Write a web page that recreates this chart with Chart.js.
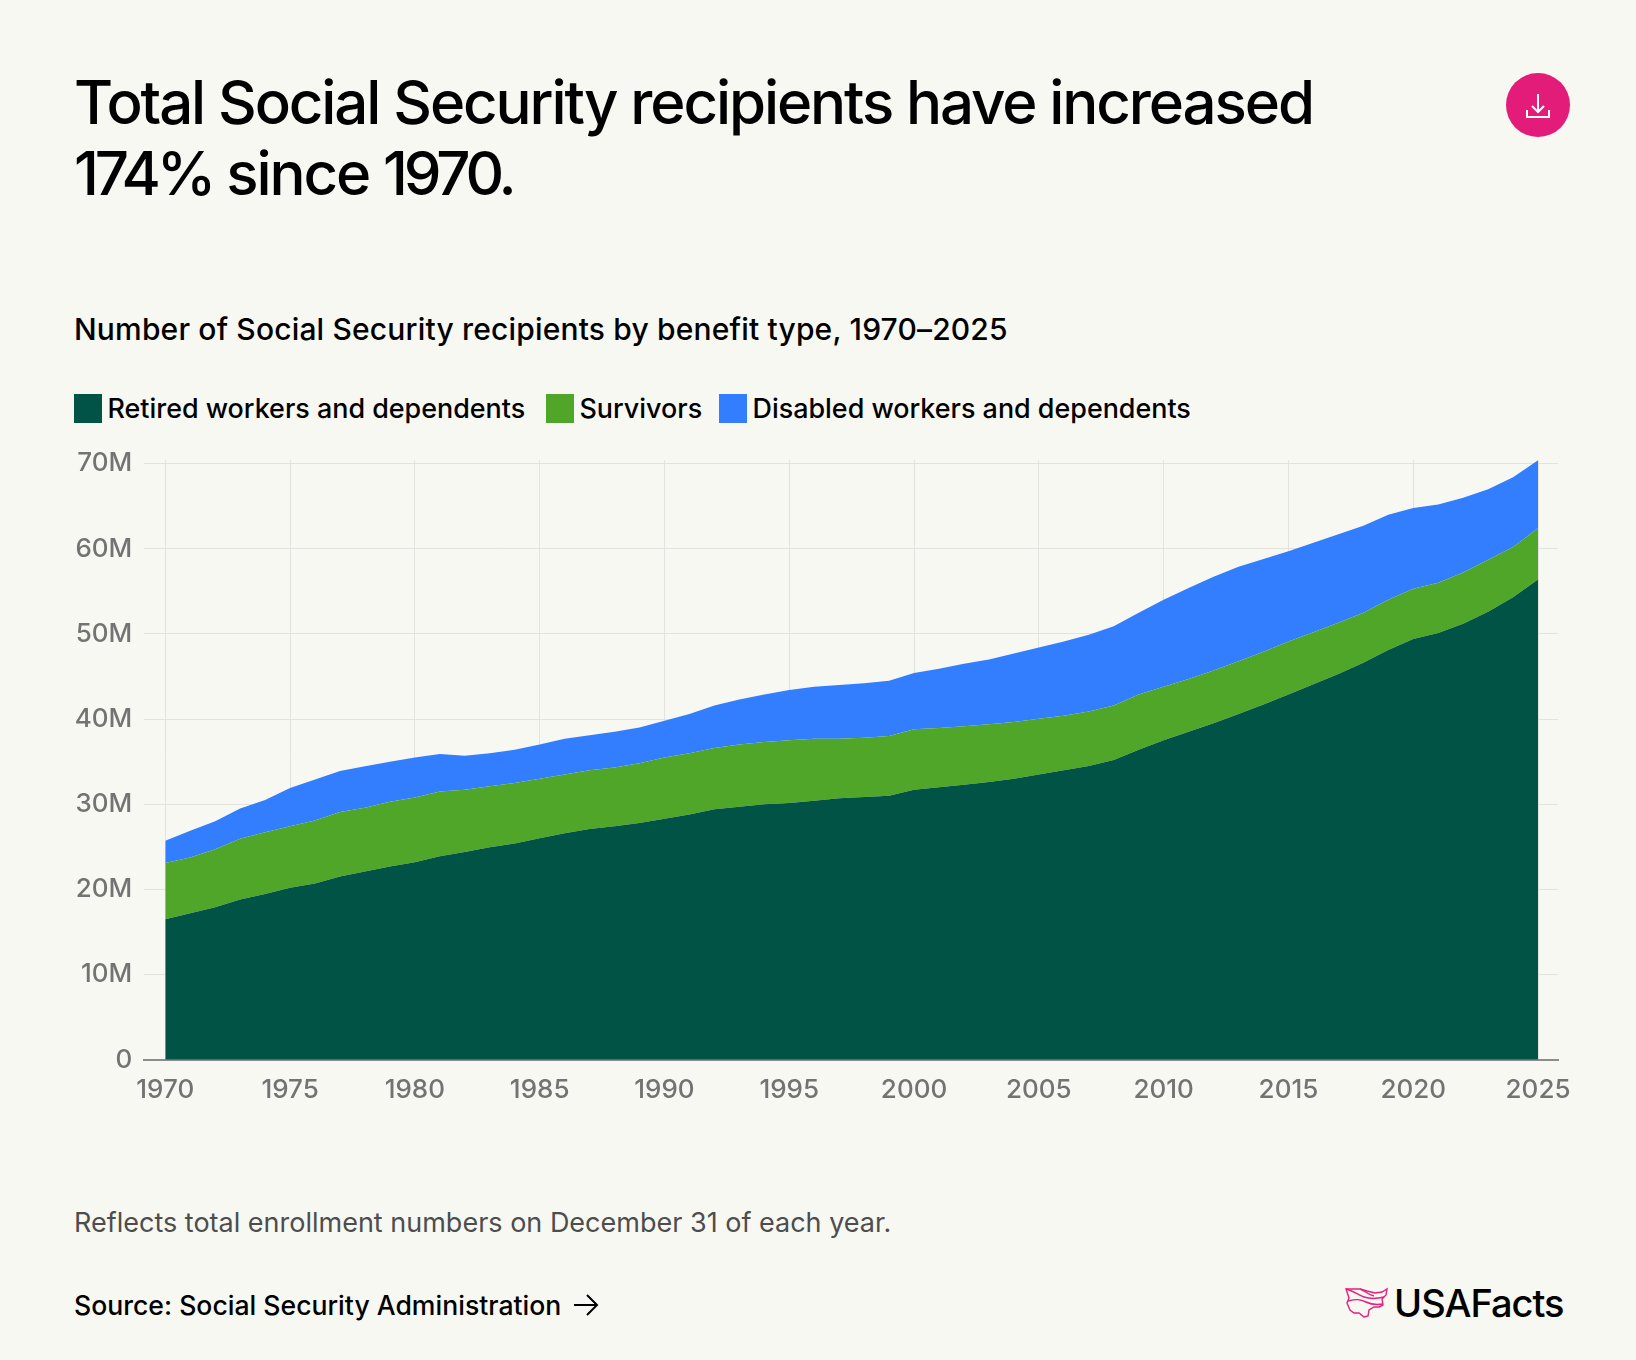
<!DOCTYPE html>
<html>
<head>
<meta charset="utf-8">
<script src="https://cdn.jsdelivr.net/npm/chart.js@4"></script>
<style>
  html, body { margin: 0; padding: 0; background: #f8f8f3; }
  body { position: relative; width: 1636px; height: 1360px; overflow: hidden; font-family: Inter, sans-serif; color: #000; }
  .abs { position: absolute; white-space: nowrap; }
  #title { left: 74px; top: 67px; font-size: 60px; line-height: 71px; font-weight: 500; letter-spacing: -2.1px; }
  #title span { letter-spacing: -4.1px; }
  #subtitle { left: 74px; top: 311px; font-size: 30px; line-height: 36px; font-weight: 500; letter-spacing: 0.17px; }
  #legend { left: 74px; top: 394px; height: 29px; }
  .swatch { position: absolute; top: 0; width: 28px; height: 29px; }
  .leglabel { position: absolute; top: 0; line-height: 29px; font-size: 26.9px; font-weight: 500; white-space: nowrap; }
  #note { left: 74px; top: 1206px; font-size: 27px; line-height: 34px; color: #4d4d4d; }
  #source { left: 74px; top: 1288px; font-size: 26.6px; line-height: 34px; font-weight: 500; }
  #brand { left: 1394px; top: 1280px; font-size: 38px; line-height: 46px; font-weight: 500; letter-spacing: -1px; }
  canvas { position: absolute; left: 0; top: 440px; }
  svg { position: absolute; }
</style>
</head>
<body>
<div class="abs" id="title">Total Social Security recipients have increased<br><span>174%</span> since <span>1970.</span></div>
<div class="abs" id="subtitle">Number of Social Security recipients by benefit type, 1970–2025</div>
<div class="abs" id="legend"></div>
<canvas id="myChart" width="1636" height="690"></canvas>
<div class="abs" id="note">Reflects total enrollment numbers on December 31 of each year.</div>
<div class="abs" id="source">Source: Social Security Administration</div>
<svg style="left:572px;top:1293px" width="28" height="24" viewBox="0 0 28 24" fill="none" stroke="#000" stroke-width="2">
  <path d="M2 12H25M15 2L25 12L15 22"/>
</svg>
<div class="abs" id="brand">USAFacts</div>
<svg style="left:1344px;top:1286px" width="46" height="34" viewBox="0 0 46 34" fill="none" stroke="#e61f7b" stroke-width="1.4">
  <path d="M2 3H16L23 5L31 7L38 6L43 3L42 9L38 13L39 19L35 21L30 21L25 24L24 30L20 31L15 27L10 27L6 24L3 17L5 12Z"/>
  <path d="M2 3C10 5 14 9 20 11S32 13 40 11"/>
  <path d="M16 3C22 5 24 9 30 10"/>
  <path d="M4 15C12 13 16 13 22 16S32 19 39 18"/>
</svg>
<svg style="left:1506px;top:73px" width="64" height="64" viewBox="0 0 64 64">
  <circle cx="32" cy="32" r="32" fill="#e31c79"/>
  <path d="M32 21V38M26 33L32 39L38 33M21 37V44H43V37" fill="none" stroke="#fff" stroke-width="2"/>
</svg>
<script>
const ctx = document.getElementById("myChart").getContext("2d");

const years = [1970,1971,1972,1973,1974,1975,1976,1977,1978,1979,1980,1981,1982,1983,1984,1985,1986,1987,1988,1989,1990,1991,1992,1993,1994,1995,1996,1997,1998,1999,2000,2001,2002,2003,2004,2005,2006,2007,2008,2009,2010,2011,2012,2013,2014,2015,2016,2017,2018,2019,2020,2021,2022,2023,2024,2025];
// millions of recipients
const retired = [16.5,17.2,17.9,18.8,19.45,20.2,20.7,21.5,22.1,22.7,23.2,23.9,24.4,24.95,25.4,26.0,26.6,27.1,27.4,27.8,28.3,28.8,29.4,29.7,30.0,30.15,30.4,30.7,30.85,31.0,31.7,32.0,32.3,32.6,33.0,33.5,34.0,34.5,35.2,36.4,37.5,38.5,39.5,40.6,41.7,42.9,44.1,45.3,46.6,48.1,49.4,50.1,51.2,52.6,54.3,56.4];
const survivors = [6.6,6.55,6.8,7.16,7.25,7.2,7.4,7.6,7.5,7.6,7.6,7.6,7.3,7.15,7.1,7.0,6.9,6.9,6.9,7.0,7.2,7.2,7.2,7.3,7.3,7.35,7.3,7.0,6.95,7.0,7.1,6.95,6.85,6.8,6.65,6.55,6.4,6.4,6.4,6.5,6.3,6.2,6.2,6.2,6.2,6.2,6.1,6.0,5.9,5.9,5.9,5.9,6.0,6.1,5.9,6.0];
const disabled = [2.6,3.15,3.3,3.55,3.8,4.5,4.8,4.8,4.85,4.7,4.7,4.4,4.0,3.9,3.9,4.0,4.2,4.1,4.2,4.2,4.3,4.6,5.0,5.3,5.6,5.9,6.1,6.3,6.4,6.5,6.6,6.95,7.35,7.6,8.05,8.35,8.7,9.0,9.3,9.6,10.2,10.7,11.0,11.1,10.9,10.6,10.5,10.4,10.2,10.0,9.5,9.2,8.8,8.3,8.2,8.0];

const seriesNames = ["Retired workers and dependents","Survivors","Disabled workers and dependents"];
const seriesColors = ["#005345","#4fa628","#327eff"];
const yTicks = [0,10,20,30,40,50,60,70];
const xTicks = [1970,1975,1980,1985,1990,1995,2000,2005,2010,2015,2020,2025];

// html legend, the swatches sit closer to the text than chart.js allows
const legendX = [0,472,645];
const legend = document.getElementById("legend");
seriesNames.forEach((name,i)=>{
  legend.insertAdjacentHTML("beforeend",
    '<div class="swatch" style="left:'+legendX[i]+'px;background:'+seriesColors[i]+'"></div>'+
    '<div class="leglabel" style="left:'+(legendX[i]+33.5)+'px">'+name+'</div>');
});

function toPoints(values){
  return values.map((v,i)=>({x:years[i],y:v}));
}

const data={
  datasets:[retired,survivors,disabled].map((values,i)=>({
    label:seriesNames[i],
    data:toPoints(values),
    backgroundColor:seriesColors[i],
    borderWidth:0,
    pointRadius:0,
    tension:0,
    fill:i===0?"origin":"-1",
  })),
};

const tickColor="#737373";
const gridColor="#e2e2de";

const myChart=new Chart(ctx,{
  type:"line",
  data,
  options:{
    responsive:false,
    animation:false,
    layout:{padding:{left:74.3,right:78,top:20.2,bottom:0}},
    plugins:{legend:{display:false},tooltip:{enabled:false}},
    scales:{
      x:{
        type:"linear",
        min:1969.16,
        max:2025.8,
        afterBuildTicks:(scale)=>{scale.ticks=xTicks.map(v=>({value:v}));},
        afterFit:(scale)=>{scale.height=70.3;scale.paddingLeft=0;scale.paddingRight=0;},
        grid:{color:gridColor,lineWidth:1,drawTicks:false},
        border:{display:true,color:"#8c8c8c",width:2},
        ticks:{
          color:tickColor,
          font:{family:"Inter",size:26,weight:"500"},
          padding:15,
          maxRotation:0,
          autoSkip:false,
          callback:(value)=>String(value),
        },
      },
      y:{
        stacked:true,
        min:0,
        max:70.4,
        afterBuildTicks:(scale)=>{scale.ticks=yTicks.map(v=>({value:v}));},
        afterFit:(scale)=>{scale.width=70;scale.paddingTop=0;scale.paddingBottom=0;},
        grid:{color:gridColor,lineWidth:1,drawTicks:false},
        border:{display:false},
        ticks:{
          color:tickColor,
          font:{family:"Inter",size:26,weight:"500"},
          padding:12,
          callback:(value)=>value===0?"0":value+"M",
        },
      },
    },
  },
});
</script>
</body>
</html>
